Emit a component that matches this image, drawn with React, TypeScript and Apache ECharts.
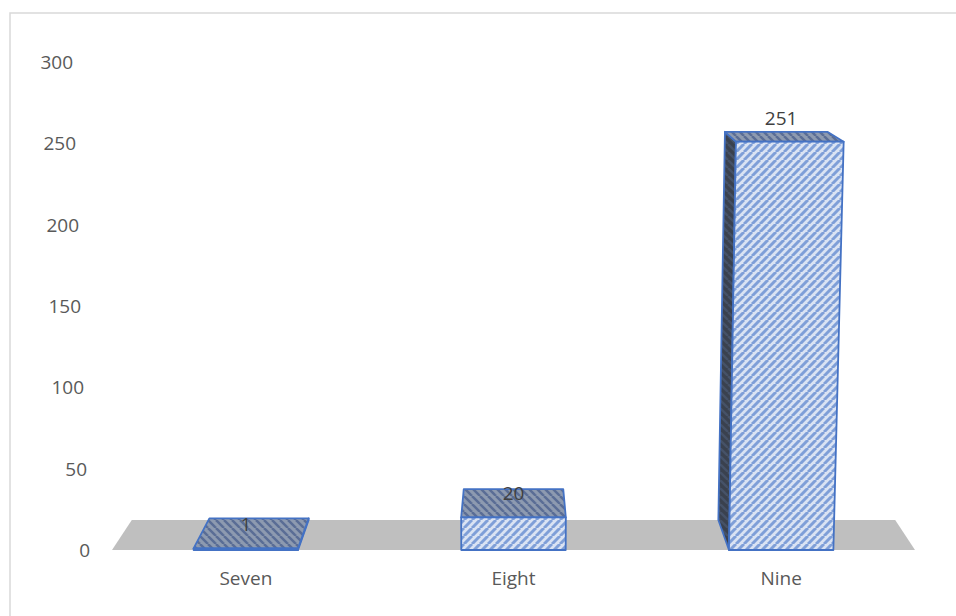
import { useEffect, useRef } from "react";
import * as echarts from "echarts";

// Grade counts shown as 3D columns on a perspective floor
const categories = ["Seven", "Eight", "Nine"];
const counts = [1, 20, 251];
const yTicks = [0, 50, 100, 150, 200, 250, 300];
const Y_MAX = 300;
const Y_STEP = 50;

const FONT = '"Open Sans", "Noto Sans", sans-serif';
const FONT_SIZE = 19;
const EDGE = "#4472c4";

// Perspective constants: back plane scale and eye height (in grid heights)
const DEPTH = 0.9507;
const EYE = 1.248;
const LEAN = 0.0385;
const BAR_FRACTION = 0.39;

function stripes(bg: string, fg: string, dir: "/" | "\\", size: number, width: number) {
  const c = document.createElement("canvas");
  c.width = size;
  c.height = size;
  const ctx = c.getContext("2d")!;
  ctx.fillStyle = bg;
  ctx.fillRect(0, 0, size, size);
  ctx.strokeStyle = fg;
  ctx.lineWidth = width;
  for (let k = -1; k <= 1; k++) {
    ctx.beginPath();
    if (dir === "/") {
      ctx.moveTo(k * size, size);
      ctx.lineTo(k * size + size, 0);
    } else {
      ctx.moveTo(k * size, 0);
      ctx.lineTo(k * size + size, size);
    }
    ctx.stroke();
  }
  return { image: c, repeat: "repeat", imageWidth: size, imageHeight: size } as any;
}

export default function App() {
  const ref = useRef<HTMLDivElement>(null);

  useEffect(() => {
    if (!ref.current) return;
    const chart = echarts.init(ref.current, undefined, { renderer: "svg" });

    const frontFill = stripes("#dae3f3", "#7f9fd8", "/", 8, 3);
    const topFill = stripes("#8d9ab0", "#5a6d95", "\\", 8, 2.5);
    const sideFill = stripes("#3a414e", "#465268", "\\", 8, 2.5);

    const richTicks: Record<string, any> = {};
    yTicks.forEach((t) => {
      richTicks["t" + t] = {
        color: "#595959",
        fontFamily: FONT,
        fontSize: FONT_SIZE,
        padding: [0, Math.round((17 * t) / Y_MAX), 0, 0],
      };
    });

    const projector = (params: any, baseY: number) => {
      const cs = params.coordSys;
      const xv = cs.x + cs.width / 2;
      const ye = baseY - cs.height * EYE;
      const back = (p: number[]) => [xv + (p[0] - xv) * DEPTH, ye + (p[1] - ye) * DEPTH];
      const lean = (x: number, y: number) => xv + (x - xv) * (1 + (LEAN * (baseY - y)) / cs.height);
      return { xv, back, lean };
    };

    const option: any = {
      animation: false,
      backgroundColor: "#ffffff",
      graphic: [
        {
          type: "rect",
          shape: { x: 10, y: 13, width: 1000, height: 700 },
          style: { fill: "none", stroke: "#d9d9d9", lineWidth: 1.5 },
          silent: true,
        },
      ],
      grid: { left: 112, right: 41, top: 62, bottom: 66 },
      xAxis: {
        type: "category",
        data: categories,
        axisLine: { show: false },
        axisTick: { show: false },
        splitLine: { show: false },
        axisLabel: {
          color: "#595959",
          fontFamily: FONT,
          fontSize: FONT_SIZE,
          margin: 18,
        },
      },
      yAxis: {
        type: "value",
        min: 0,
        max: Y_MAX,
        interval: Y_STEP,
        axisLine: { show: false },
        axisTick: { show: false },
        splitLine: { show: false },
        axisLabel: {
          margin: 22,
          formatter: (v: number) => `{t${v}|${v}}`,
          rich: richTicks,
        },
      },
      series: [
        {
          type: "custom",
          name: "floor",
          data: [[0, 0]],
          z: 1,
          silent: true,
          renderItem: (params: any, api: any) => {
            const cs = params.coordSys;
            const baseY = api.coord([0, 0])[1];
            const { back } = projector(params, baseY);
            const a = [cs.x, baseY];
            const b = [cs.x + cs.width, baseY];
            return {
              type: "polygon",
              shape: { points: [a, b, back(b), back(a)] },
              style: { fill: "#bfbfbf" },
            };
          },
        },
        {
          type: "custom",
          name: "count",
          z: 2,
          data: counts.map((v, i) => [i, v]),
          encode: { x: 0, y: 1 },
          renderItem: (params: any, api: any) => {
            const idx = api.value(0);
            const v = api.value(1);
            const top = api.coord([idx, v]);
            const base = api.coord([idx, 0]);
            const half = (api.size([1, 0])[0] * BAR_FRACTION) / 2;
            const { xv, back, lean } = projector(params, base[1]);

            const FLb = [base[0] - half, base[1]];
            const FRb = [base[0] + half, base[1]];
            const FLt = [lean(base[0] - half, top[1]), top[1]];
            const FRt = [lean(base[0] + half, top[1]), top[1]];

            const edge = { stroke: EDGE, lineWidth: 1.8, lineJoin: "round" };
            const children: any[] = [];

            if (FLb[0] > xv) {
              children.push({
                type: "polygon",
                shape: { points: [FLb, FLt, back(FLt), back(FLb)] },
                style: { fill: sideFill, ...edge },
              });
            } else if (FRb[0] < xv) {
              children.push({
                type: "polygon",
                shape: { points: [FRb, FRt, back(FRt), back(FRb)] },
                style: { fill: sideFill, ...edge },
              });
            }
            children.push({
              type: "polygon",
              shape: { points: [FLt, FRt, back(FRt), back(FLt)] },
              style: { fill: topFill, ...edge },
            });
            children.push({
              type: "polygon",
              shape: { points: [FLb, FRb, FRt, FLt] },
              style: { fill: frontFill, ...edge },
            });
            children.push({
              type: "text",
              x: base[0],
              y: top[1] - 24,
              style: {
                text: String(v),
                fill: "#404040",
                fontFamily: FONT,
                fontSize: FONT_SIZE,
                align: "center",
                textAlign: "center",
                verticalAlign: "middle",
                textVerticalAlign: "middle",
              },
            });
            return { type: "group", children };
          },
        },
      ],
    };

    chart.setOption(option);
    return () => chart.dispose();
  }, []);

  return (
    <div
      ref={ref}
      style={{ position: "fixed", left: 0, top: 0, width: 956, height: 616 }}
    />
  );
}
